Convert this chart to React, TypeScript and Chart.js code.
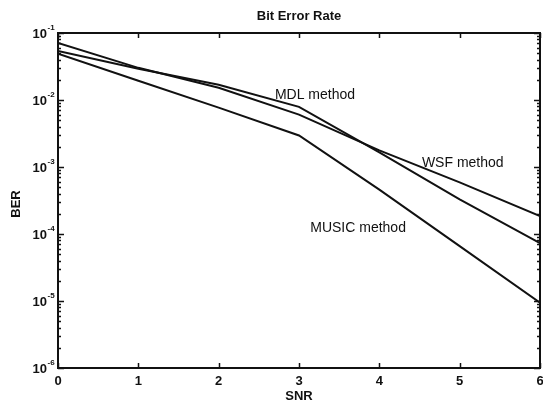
import { useEffect, useRef } from 'react';
import { Chart, registerables } from 'chart.js';
Chart.register(...registerables);

const snr = [0, 1, 2, 3, 4, 5, 6];
const berMUSIC = [4.9e-2, 1.94e-2, 7.7e-3, 2.95e-3, 4.6e-4, 6.6e-5, 9.4e-6];
const berMDL = [5.4e-2, 2.92e-2, 1.69e-2, 7.9e-3, 1.65e-3, 3.3e-4, 7.3e-5];
const berWSF = [7.1e-2, 3.02e-2, 1.52e-2, 6.05e-3, 1.77e-3, 5.9e-4, 1.85e-4];

const xTickValues = [0, 1, 2, 3, 4, 5, 6];
const yTickExponents = [-6, -5, -4, -3, -2, -1];

const chartTitle = 'Bit Error Rate';
const xTitle = 'SNR';
const yTitle = 'BER';

const annotationTexts = ['MDL method', 'WSF method', 'MUSIC method'];
const annotationX = [2.7, 4.53, 3.14];
const annotationY = [1.2e-2, 1.13e-3, 1.22e-4];

const FONT = '"Liberation Sans", Arial, Helvetica, sans-serif';
const INK = '#111';

const matlabPlugin = {
  id: 'matlabAxes',
  afterDraw(chart: any) {
    const { ctx, chartArea } = chart;
    const xs = chart.scales.x;
    const ys = chart.scales.y;
    const { left, right, top, bottom } = chartArea;
    ctx.save();
    ctx.strokeStyle = INK;
    ctx.fillStyle = INK;
    // box
    ctx.lineWidth = 2;
    ctx.strokeRect(left, top, right - left, bottom - top);
    // x ticks
    ctx.lineWidth = 1.5;
    xTickValues.forEach((v) => {
      const px = Math.round(xs.getPixelForValue(v)) + 0.5;
      ctx.beginPath();
      ctx.moveTo(px, bottom);
      ctx.lineTo(px, bottom - 5);
      ctx.moveTo(px, top);
      ctx.lineTo(px, top + 5);
      ctx.stroke();
    });
    // y ticks
    yTickExponents.forEach((e) => {
      const maxM = e === -1 ? 1 : 9;
      for (let m = 1; m <= maxM; m++) {
        const v = m * Math.pow(10, e);
        const py = Math.round(ys.getPixelForValue(v)) + 0.5;
        const len = m === 1 ? 6 : 3;
        ctx.beginPath();
        ctx.moveTo(left, py);
        ctx.lineTo(left + len, py);
        ctx.moveTo(right, py);
        ctx.lineTo(right - len, py);
        ctx.stroke();
      }
    });
    // x tick labels
    ctx.font = `bold 13px ${FONT}`;
    ctx.textAlign = 'center';
    ctx.textBaseline = 'middle';
    xTickValues.forEach((v) => {
      ctx.fillText(String(v), xs.getPixelForValue(v), 381);
    });
    // y tick labels
    yTickExponents.forEach((e) => {
      const py = ys.getPixelForValue(Math.pow(10, e));
      ctx.font = `bold 13px ${FONT}`;
      ctx.textAlign = 'right';
      ctx.textBaseline = 'middle';
      ctx.fillText('10', 47, py + 1);
      ctx.font = `bold 8px ${FONT}`;
      ctx.textAlign = 'left';
      ctx.fillText(String(e), 47.5, py - 5);
    });
    // titles
    ctx.font = `bold 13px ${FONT}`;
    ctx.textAlign = 'center';
    ctx.textBaseline = 'middle';
    ctx.fillText(chartTitle, (left + right) / 2, 16);
    ctx.fillText(xTitle, (left + right) / 2, 396);
    ctx.save();
    ctx.translate(16, 204);
    ctx.rotate(-Math.PI / 2);
    ctx.fillText(yTitle, 0, 0);
    ctx.restore();
    // annotations
    ctx.font = `14px ${FONT}`;
    ctx.textAlign = 'left';
    ctx.textBaseline = 'middle';
    annotationTexts.forEach((t, i) => {
      ctx.fillText(t, xs.getPixelForValue(annotationX[i]), ys.getPixelForValue(annotationY[i]));
    });
    ctx.restore();
  },
};

export default function App() {
  const ref = useRef<HTMLCanvasElement>(null);
  useEffect(() => {
    const mk = (label: string, arr: number[]) => ({
      label,
      data: snr.map((x, i) => ({ x, y: arr[i] })),
      borderColor: INK,
      borderWidth: 2,
      pointRadius: 0,
      tension: 0,
      fill: false,
    });
    const chart = new Chart(ref.current as HTMLCanvasElement, {
      type: 'line',
      data: {
        datasets: [mk('MDL', berMDL), mk('WSF', berWSF), mk('MUSIC', berMUSIC)],
      },
      options: {
        animation: false,
        responsive: true,
        maintainAspectRatio: false,
        layout: { padding: { left: 58, right: 3, top: 33, bottom: 34 } },
        plugins: {
          legend: { display: false },
          tooltip: { enabled: false },
          title: { display: false },
        },
        scales: {
          x: { type: 'linear', min: 0, max: 6, display: false },
          y: { type: 'logarithmic', min: 1e-6, max: 1e-1, display: false },
        },
      },
      plugins: [matlabPlugin],
    } as any);
    return () => chart.destroy();
  }, []);
  return (
    <div style={{ position: 'fixed', left: 0, top: 0, width: 543, height: 402, background: '#fff' }}>
      <canvas ref={ref} />
    </div>
  );
}
